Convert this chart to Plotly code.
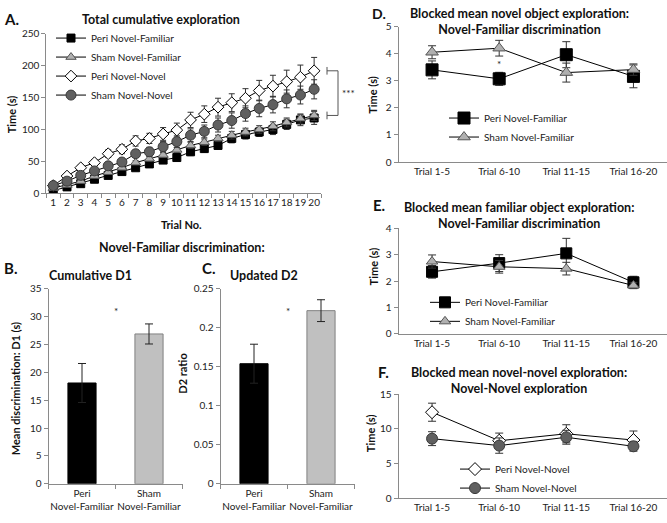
import plotly.graph_objects as go

W, H = 667, 523
def px(x): return x / W
def py(y): return 1 - y / H

FONT = "Lato"
# ---------------- data ----------------
trials = [str(i) for i in range(1, 21)]
peri_nf = [4, 10, 15, 22, 28, 34, 40, 46, 52, 56, 65, 70, 75, 86, 92, 96, 100, 108, 115, 118]
peri_nf_err = [1, 2, 2, 3, 3, 4, 4, 5, 5, 5, 6, 6, 6, 7, 7, 7, 8, 8, 9, 10]
sham_nf = [8, 13, 19, 27, 33, 40, 48, 54, 60, 68, 75, 80, 86, 91, 96, 100, 105, 111, 117, 122]
sham_nf_err = [1, 2, 2, 2, 3, 3, 3, 4, 4, 4, 5, 5, 5, 6, 6, 6, 7, 7, 7, 8]
peri_nn = [12, 27, 40, 48, 62, 69, 82, 86, 93, 99, 115, 124, 135, 142, 149, 161, 168, 175, 182, 192]
peri_nn_err = [2, 3, 4, 5, 6, 7, 8, 8, 10, 11, 12, 13, 14, 14, 15, 16, 17, 18, 19, 21]
sham_nn = [12, 19, 28, 35, 43, 49, 62, 65, 73, 81, 91, 97, 107, 114, 125, 133, 139, 148, 154, 163]
sham_nn_err = [2, 3, 3, 4, 5, 5, 6, 7, 8, 9, 10, 10, 11, 12, 12, 13, 13, 14, 14, 15]

groups = ["Peri<br>Novel-Familiar", "Sham<br>Novel-Familiar"]
d1 = [18.1, 26.9]
d1_err = [3.5, 1.8]
d2 = [0.154, 0.222]
d2_err = [0.025, 0.014]

blocks = ["Trial 1-5", "Trial 6-10", "Trial 11-15", "Trial 16-20"]
d_peri = [3.40, 3.07, 3.96, 3.16]
d_peri_err = [0.33, 0.24, 0.48, 0.42]
d_sham = [4.05, 4.20, 3.30, 3.41]
d_sham_err = [0.24, 0.29, 0.35, 0.21]

e_peri = [2.35, 2.68, 3.05, 1.95]
e_peri_err = [0.24, 0.32, 0.57, 0.23]
e_sham = [2.74, 2.54, 2.47, 1.83]
e_sham_err = [0.25, 0.24, 0.24, 0.12]

f_peri = [12.4, 8.3, 9.3, 8.4]
f_peri_err = [1.3, 1.1, 1.3, 1.3]
f_sham = [8.6, 7.6, 8.8, 7.5]
f_sham_err = [1.0, 1.1, 1.0, 0.7]

LINE = "#000000"
ERR = "#333333"
AX = "#8a8a8a"

styles = {
    "Peri Novel-Familiar": dict(symbol="square", color="#000000", line=dict(color="#000000", width=1)),
    "Sham Novel-Familiar": dict(symbol="triangle-up", color="#b0b0b0", line=dict(color="#555555", width=1)),
    "Peri Novel-Novel": dict(symbol="diamond", color="#ffffff", line=dict(color="#000000", width=1)),
    "Sham Novel-Novel": dict(symbol="circle", color="#606060", line=dict(color="#3a3a3a", width=1)),
}

fig = go.Figure()

def line_trace(x, y, err, name, xa, ya, legend, size, cap=3):
    st = styles[name]
    fig.add_trace(go.Scatter(
        x=x, y=y, name=name, mode="lines+markers",
        xaxis=xa, yaxis=ya, legend=legend,
        line=dict(color=LINE, width=1),
        marker=dict(symbol=st["symbol"], color=st["color"], size=size, line=st["line"]),
        error_y=dict(type="data", array=err, visible=True, color=ERR, thickness=1, width=cap),
    ))

# Panel A
line_trace(trials, peri_nf, peri_nf_err, "Peri Novel-Familiar", "x", "y", "legend", 8)
line_trace(trials, sham_nf, sham_nf_err, "Sham Novel-Familiar", "x", "y", "legend", 9)
line_trace(trials, peri_nn, peri_nn_err, "Peri Novel-Novel", "x", "y", "legend", 9)
line_trace(trials, sham_nn, sham_nn_err, "Sham Novel-Novel", "x", "y", "legend", 10)

# Panel B and C bars
for vals, errs, xa, ya in [(d1, d1_err, "x2", "y2"), (d2, d2_err, "x3", "y3")]:
    fig.add_trace(go.Bar(
        x=groups, y=vals, xaxis=xa, yaxis=ya, width=0.42, showlegend=False,
        marker=dict(color=["#000000", "#c0c0c0"], line=dict(color=["#000000", "#808080"], width=1)),
        error_y=dict(type="data", array=errs, visible=True, color="#222222", thickness=1, width=4),
    ))

# Panel D, E, F
line_trace(blocks, d_peri, d_peri_err, "Peri Novel-Familiar", "x4", "y4", "legend2", 12, 4)
line_trace(blocks, d_sham, d_sham_err, "Sham Novel-Familiar", "x4", "y4", "legend2", 11, 4)
line_trace(blocks, e_peri, e_peri_err, "Peri Novel-Familiar", "x5", "y5", "legend3", 11, 4)
line_trace(blocks, e_sham, e_sham_err, "Sham Novel-Familiar", "x5", "y5", "legend3", 10, 4)
line_trace(blocks, f_peri, f_peri_err, "Peri Novel-Novel", "x6", "y6", "legend4", 10, 4)
line_trace(blocks, f_sham, f_sham_err, "Sham Novel-Novel", "x6", "y6", "legend4", 11, 4)

tickfont = dict(family=FONT, size=10, color="#222")
def xax(domain, anchor, ncat, ticks=True):
    d = dict(domain=domain, anchor=anchor, type="category", showgrid=False, zeroline=False,
             showline=True, linecolor=AX, linewidth=1, tickfont=tickfont, fixedrange=True,
             tickangle=0, dtick=1, tickmode="linear", tick0=0, range=[-0.5, ncat - 0.5])
    if ticks:
        d.update(ticks="outside", ticklen=4, tickcolor=AX, tickson="boundaries")
    else:
        d.update(ticks="")
    return d

def yax(domain, anchor, rng, dtick):
    return dict(domain=domain, anchor=anchor, range=rng, dtick=dtick, tick0=0, showgrid=False,
                zeroline=False, showline=True, linecolor=AX, linewidth=1, ticks="outside",
                ticklen=4, tickcolor=AX, tickfont=tickfont, fixedrange=True)

fig.update_layout(
    width=W, height=H, margin=dict(l=0, r=0, t=0, b=0),
    paper_bgcolor="white", plot_bgcolor="white",
    font=dict(family=FONT, size=10, color="#222"),
    xaxis=xax([px(46.4), px(321)], "y", len(trials)),
    yaxis=yax([py(191), py(27.5)], "x", [0, 250], 50),
    xaxis2=xax([px(48.5), px(182.5)], "y2", len(groups)),
    yaxis2=yax([py(489), py(289)], "x2", [0, 35], 5),
    xaxis3=xax([px(220.5), px(354.5)], "y3", len(groups)),
    yaxis3=yax([py(489), py(289)], "x3", [0, 0.25], 0.05),
    xaxis4=xax([px(398.5), px(667)], "y4", len(blocks), ticks=False),
    yaxis4=yax([py(159), py(20)], "x4", [0, 5], 1),
    xaxis5=xax([px(398.5), px(667)], "y5", len(blocks), ticks=False),
    yaxis5=yax([py(335), py(227)], "x5", [0, 4], 1),
    xaxis6=xax([px(398.5), px(667)], "y6", len(blocks), ticks=False),
    yaxis6=yax([py(504), py(397)], "x6", [0, 15], 5),
)

leg = dict(bgcolor="rgba(0,0,0,0)", font=dict(family=FONT, size=10, color="#222"),
           itemwidth=30, xanchor="left", yanchor="top", tracegroupgap=0)
fig.update_layout(
    legend=dict(leg, x=px(51), y=py(17)),
    legend2=dict(leg, x=px(444), y=py(99)),
    legend3=dict(leg, x=px(425), y=py(288)),
    legend4=dict(leg, x=px(455), y=py(459)),
)

anns = []
def txt(x, y, s, size=11, bold=False, angle=0, xanchor="center"):
    anns.append(dict(x=px(x), y=py(y), xref="paper", yref="paper", text=f"<b>{s}</b>" if bold else s,
                     showarrow=False, textangle=angle, xanchor=xanchor, yanchor="middle",
                     font=dict(family=FONT, size=size, color="#111")))

# panel letters and titles
txt(11, 12, "A.", 15, True)
txt(161, 13, "Total cumulative exploration", 12.5, True)
txt(182, 247, "Novel-Familiar discrimination:", 12.5, True)
txt(10, 268, "B.", 15, True)
txt(90, 275, "Cumulative D1", 12.5, True)
txt(209, 268, "C.", 15, True)
txt(264, 275, "Updated D2", 12.5, True)
txt(379, 7, "D.", 14, True)
txt(519, 15, "Blocked mean novel object exploration:<br>Novel-Familiar discrimination", 12.5, True)
txt(379, 203, "E.", 15, True)
txt(519, 213.5, "Blocked mean familiar object exploration:<br>Novel-Familiar discrimination", 12.5, True)
txt(384, 374, "F.", 15, True)
txt(519, 383.5, "Blocked mean novel-novel exploration:<br>Novel-Novel exploration", 12.5, True)
# axis titles
txt(11, 110, "Time (s)", 11, True, -90)
txt(182, 223, "Trial No.", 11, True)
txt(15, 392, "Mean discrimination: D1 (s)", 11, True, -90)
txt(183, 376, "D2 ratio", 11, True, -90)
txt(373, 90, "Time (s)", 11, True, -90)
txt(373, 266, "Time (s)", 11, True, -90)
txt(370, 437, "Time (s)", 11, True, -90)

# significance markers (data-anchored)
anns.append(dict(x=0.5, y=31.0, xref="x2", yref="y2", text="*", showarrow=False, font=dict(family=FONT, size=10)))
anns.append(dict(x=0.5, y=0.222, xref="x3", yref="y3", text="*", showarrow=False, font=dict(family=FONT, size=10)))
anns.append(dict(x=1, y=3.6, xref="x4", yref="y4", text="*", showarrow=False, font=dict(family=FONT, size=10)))
top, bot = peri_nn[-1], sham_nf[-1]
anns.append(dict(x=px(348), y=(top + bot) / 2, xref="paper", yref="y", text="***", showarrow=False,
                 font=dict(family=FONT, size=10)))
fig.update_layout(annotations=anns)

# bracket for panel A
bc = "#555555"
shapes = []
for yv in (top, bot):
    shapes.append(dict(type="line", xref="paper", yref="y", x0=px(327), x1=px(338), y0=yv, y1=yv, line=dict(color=bc, width=1)))
    shapes.append(dict(type="line", xref="paper", yref="y", x0=px(327), x1=px(327), y0=yv - 6, y1=yv + 6, line=dict(color=bc, width=1)))
shapes.append(dict(type="line", xref="paper", yref="y", x0=px(338), x1=px(338), y0=bot, y1=top, line=dict(color=bc, width=1)))
fig.update_layout(shapes=shapes)

fig.write_html("out.html", config={"displayModeBar": False},
               post_script="document.body.style.margin='0';document.body.style.overflow='hidden';")
